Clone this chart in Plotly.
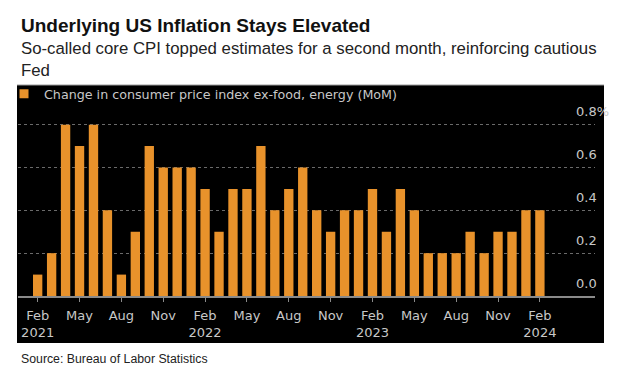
import plotly.graph_objects as go

# Monthly core CPI change (MoM, %), Feb 2021 - Feb 2024
months = ["Feb 2021", "Mar 2021", "Apr 2021", "May 2021", "Jun 2021", "Jul 2021",
          "Aug 2021", "Sep 2021", "Oct 2021", "Nov 2021", "Dec 2021",
          "Jan 2022", "Feb 2022", "Mar 2022", "Apr 2022", "May 2022", "Jun 2022",
          "Jul 2022", "Aug 2022", "Sep 2022", "Oct 2022", "Nov 2022", "Dec 2022",
          "Jan 2023", "Feb 2023", "Mar 2023", "Apr 2023", "May 2023", "Jun 2023",
          "Jul 2023", "Aug 2023", "Sep 2023", "Oct 2023", "Nov 2023", "Dec 2023",
          "Jan 2024", "Feb 2024"]
core_cpi_mom = [0.1, 0.2, 0.8, 0.7, 0.8, 0.4, 0.1, 0.3, 0.7, 0.6, 0.6,
                0.6, 0.5, 0.3, 0.5, 0.5, 0.7, 0.4, 0.5, 0.6, 0.4, 0.3, 0.4,
                0.4, 0.5, 0.3, 0.5, 0.4, 0.2, 0.2, 0.2, 0.3, 0.2, 0.3, 0.3,
                0.4, 0.4]
x_tick_idx = [0, 3, 6, 9, 12, 15, 18, 21, 24, 27, 30, 33, 36]
x_tick_text = ["Feb<br>2021", "May", "Aug", "Nov", "Feb<br>2022", "May", "Aug", "Nov",
               "Feb<br>2023", "May", "Aug", "Nov", "Feb<br>2024"]
y_tick_vals = [0.0, 0.2, 0.4, 0.6, 0.8]
y_tick_text = ["0.0", "0.2", "0.4", "0.6", "0.8%"]

ORANGE = "#E8922B"
GREY_TXT = "#c8c8c8"
OFF = 8  # page body margin
W, H = 620 - OFF, 374 - OFF
# plot area in page pixels: x 18..595, y 105..296
L, R, T, B = 18 - OFF, W - (595 - OFF), 105 - OFF, H - (296 - OFF)
pw, ph = W - L - R, H - T - B

def px_x(px):
    return (px - OFF - L) / pw

def px_y(py):
    return (H - B - (py - OFF)) / ph

x_idx = list(range(len(months)))

fig = go.Figure()
fig.add_trace(go.Bar(x=x_idx, y=core_cpi_mom, marker=dict(color=ORANGE, line=dict(width=0)),
                     showlegend=False, hovertext=months))
fig.add_trace(go.Scatter(x=[None], y=[None], mode="markers",
                         marker=dict(symbol="square", size=9, color=ORANGE),
                         name="Change in consumer price index ex-food, energy (MoM)"))

fig.update_layout(
    width=W, height=H,
    margin=dict(l=L, r=R, t=T, b=B, pad=0, autoexpand=False),
    paper_bgcolor="white", plot_bgcolor="black",
    bargap=0.33,
    font=dict(family="DejaVu Sans", color=GREY_TXT, size=12),
    showlegend=True,
    legend=dict(x=px_x(4), y=px_y(94),
                xanchor="left", yanchor="middle", bgcolor="rgba(0,0,0,0)",
                font=dict(family="DejaVu Sans", size=12.7, color=GREY_TXT),
                itemwidth=30),
    xaxis=dict(range=[-1.41, 39.95], tickvals=x_tick_idx, ticktext=x_tick_text,
               showline=True, linecolor="#8a8a8a", linewidth=1.5,
               ticks="outside", ticklen=4, tickcolor="#8a8a8a", tickwidth=1,
               showgrid=False, zeroline=False, tickangle=0, ticklabelstandoff=3,
               tickfont=dict(size=13, color=GREY_TXT)),
    yaxis=dict(range=[0, 0.8 * ph / 171.3], tickvals=y_tick_vals, ticktext=y_tick_text,
               side="right", showgrid=True, gridcolor="#6a6a6a", griddash="dot", gridwidth=1,
               zeroline=False, showline=False, ticks="",
               ticklabelstandoff=-20, ticklabelshift=-13,
               tickfont=dict(size=13, color=GREY_TXT)),
    shapes=[
        dict(type="rect", xref="paper", yref="paper", x0=px_x(17), x1=px_x(604),
             y0=px_y(343), y1=px_y(85), fillcolor="black", line=dict(width=0), layer="below"),
        dict(type="line", xref="paper", yref="paper", x0=px_x(17), x1=px_x(604),
             y0=px_y(85), y1=px_y(85), line=dict(color="#9a9a9a", width=1)),
    ],
    annotations=[
        dict(text="<b>Underlying US Inflation Stays Elevated</b>", xref="paper", yref="paper",
             x=px_x(19), y=px_y(25), xanchor="left", yanchor="middle", showarrow=False,
             font=dict(family="Liberation Sans", size=19, color="#111")),
        dict(text="So-called core CPI topped estimates for a second month, reinforcing cautious<br>Fed",
             xref="paper", yref="paper", x=px_x(19), y=px_y(59.5), xanchor="left", yanchor="middle",
             align="left", showarrow=False,
             font=dict(family="Liberation Sans", size=16.8, color="#222")),
        dict(text="Source: Bureau of Labor Statistics", xref="paper", yref="paper",
             x=px_x(19), y=px_y(359), xanchor="left", yanchor="middle", showarrow=False,
             font=dict(family="Liberation Sans", size=12.3, color="#222")),
    ],
)

fig.write_html("out.html")
